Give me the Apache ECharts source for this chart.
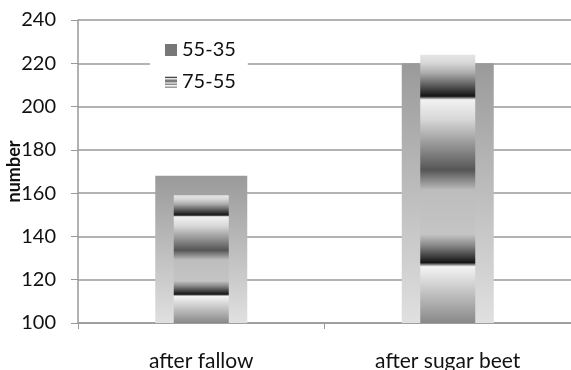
<!DOCTYPE html>
<html><head><meta charset="utf-8">
<script src="https://cdn.jsdelivr.net/npm/echarts@6/dist/echarts.min.js"></script>
<style>html,body{margin:0;padding:0;background:#fff}#c{width:571px;height:370px}</style>
</head><body><div id="c"></div>
<script>
const categories = ['after fallow', 'after sugar beet'];
const seriesNames = ['55-35', '75-55'];
const values5535 = [168, 220];
const values7555 = [159, 224];
const yTicks = {min: 100, max: 240, interval: 20};

const F = 'Lato, "Open Sans", sans-serif';
const TXT = '#111';
const grayGrad = {type:'linear', x:0, y:0, x2:0, y2:1, colorStops:[
  {offset:0, color:'#9a9a9a'}, {offset:1, color:'#e0e0e0'}]};
const bandGrad = {type:'linear', x:0, y:0, x2:0, y2:1, colorStops:[
  {offset:0, color:'#e6e6e6'}, {offset:0.03, color:'#d8d8d8'},
  {offset:0.07, color:'#aaaaaa'}, {offset:0.155, color:'#141414'},
  {offset:0.168, color:'#f2f2f2'}, {offset:0.24, color:'#d8d8d8'},
  {offset:0.43, color:'#555555'}, {offset:0.505, color:'#bdbdbd'},
  {offset:0.67, color:'#c4c4c4'}, {offset:0.71, color:'#8a8a8a'},
  {offset:0.775, color:'#141414'}, {offset:0.79, color:'#f4f4f4'},
  {offset:1, color:'#888888'}]};

const chart = echarts.init(document.getElementById('c'));
chart.setOption({
  animation:false,
  backgroundColor:'#fff',
  grid:{left:78, right:0, top:20, bottom:47, containLabel:false, outerBoundsMode:'none'},
  legend:{
    orient:'vertical', left:150, top:36,
    backgroundColor:'#fff',
    padding:[4,12,4,15],
    itemWidth:12, itemHeight:12, itemGap:12,
    icon:'rect',
    textStyle:{fontFamily:F, fontSize:20, color:TXT, lineHeight:20},
    data:[{name:seriesNames[0], itemStyle:{color:'#777'}}, {name:seriesNames[1]}]
  },
  xAxis:[{
    type:'category', data:categories,
    axisLine:{lineStyle:{color:'#999', width:1.5}},
    axisTick:{show:true, length:6, lineStyle:{color:'#999'}},
    axisLabel:{fontFamily:F, fontSize:21, color:TXT, margin:28}
  },{
    type:'category', data:categories, show:false
  }],
  yAxis:{
    type:'value', min:yTicks.min, max:yTicks.max, interval:yTicks.interval,
    name:'number', nameLocation:'middle', nameGap:55, nameRotate:90,
    nameMoveOverlap:false,
    nameTextStyle:{fontFamily:F, fontSize:18, fontWeight:'bold', color:TXT},
    axisLine:{show:true, lineStyle:{color:'#999', width:1.5}},
    axisTick:{show:true, length:7, lineStyle:{color:'#999'}},
    axisLabel:{fontFamily:F, fontSize:20, color:TXT, margin:22},
    splitLine:{lineStyle:{color:'#9a9a9a', width:1.5}}
  },
  series:[{
    name:seriesNames[0], type:'bar', xAxisIndex:0, barWidth:92,
    data:values5535, itemStyle:{color:grayGrad}, z:2
  },{
    name:seriesNames[1], type:'bar', xAxisIndex:1, barWidth:55,
    data:values7555, itemStyle:{color:bandGrad}, z:3
  }]
});
</script></body></html>
